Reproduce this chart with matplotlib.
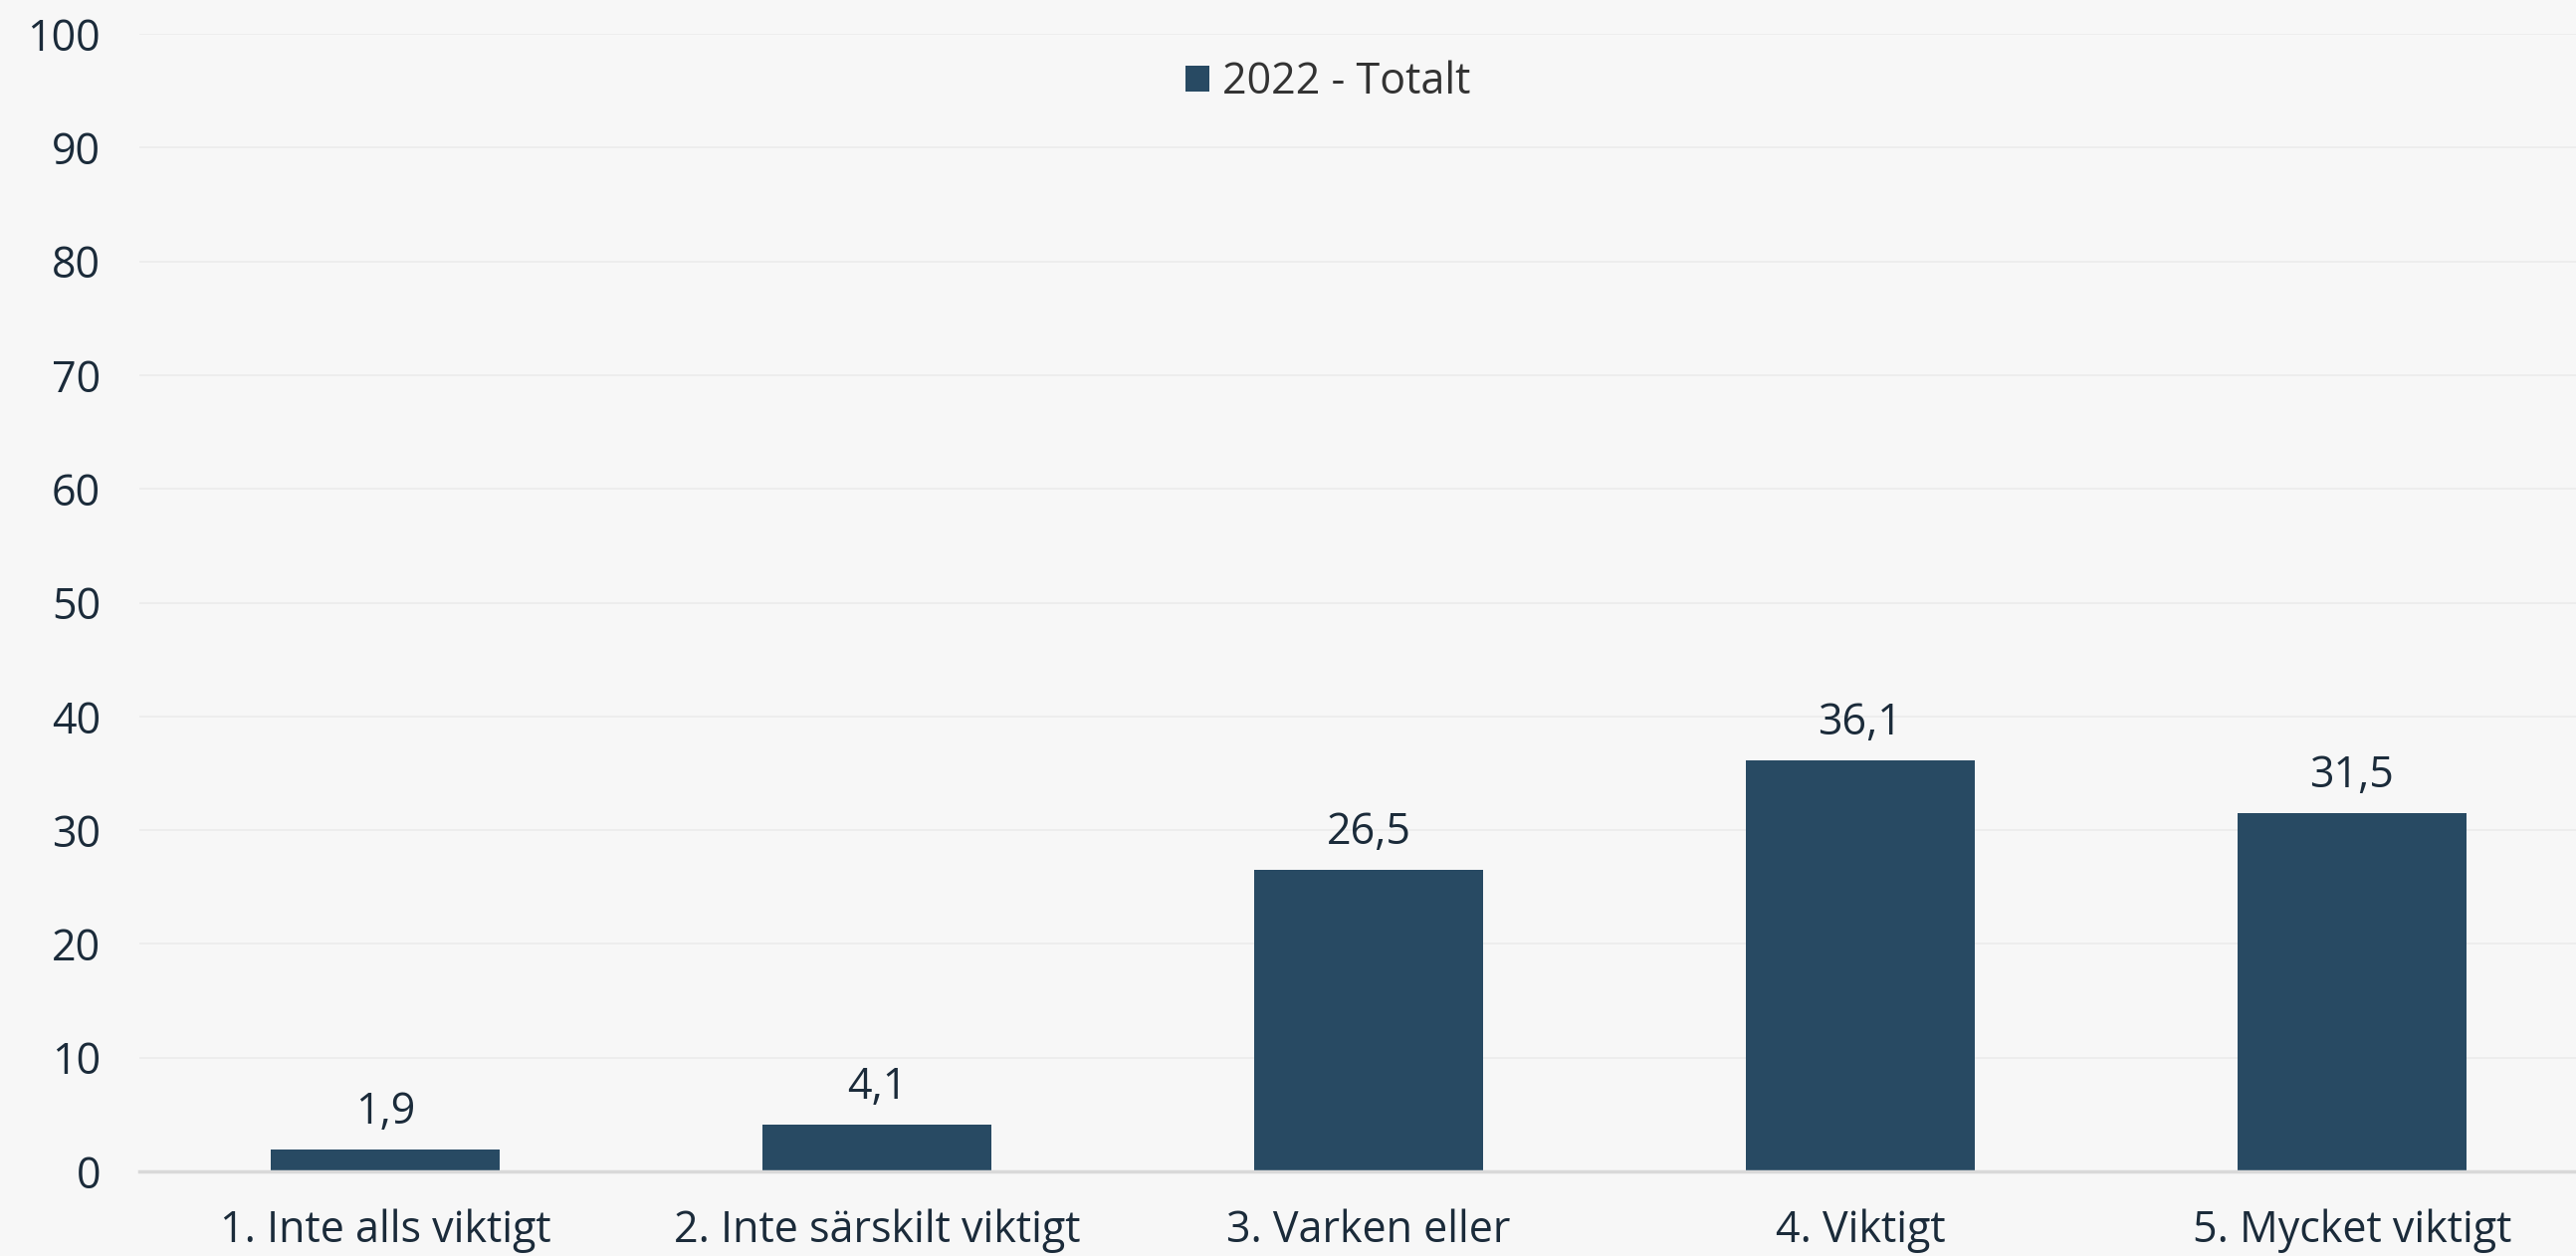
import matplotlib
matplotlib.use("Agg")
import matplotlib.pyplot as plt
from matplotlib.patches import Patch

categories = ["1. Inte alls viktigt", "2. Inte särskilt viktigt", "3. Varken eller", "4. Viktigt", "5. Mycket viktigt"]
values = [1.9, 4.1, 26.5, 36.1, 31.5]
value_labels = ["1,9", "4,1", "26,5", "36,1", "31,5"]
series_name = "2022 - Totalt"
yticks = [0, 10, 20, 30, 40, 50, 60, 70, 80, 90, 100]

W, H = 2588, 1262
dpi = 100
plt.rcParams['font.family'] = ['Open Sans', 'DejaVu Sans']
bg = "#f7f7f7"
bar_color = "#284a63"
text_color = "#1b2b3a"
fs = 31

fig = plt.figure(figsize=(W / dpi, H / dpi), dpi=dpi, facecolor=bg)
left_px, right_px, top_px, bottom_px = 140, 2610, 34, 1177
ax = fig.add_axes([left_px / W, 1 - bottom_px / H, (right_px - left_px) / W, (bottom_px - top_px) / H])
ax.set_facecolor(bg)

x = list(range(len(categories)))
bars = ax.bar(x, values, width=0.465, color=bar_color, zorder=3)
ax.set_xlim(-0.5, len(categories) - 0.5)
ax.set_ylim(0, 100)
ax.set_yticks(yticks)
ax.set_yticklabels([str(t) for t in yticks], fontsize=fs, color=text_color)
ax.set_xticks(x)
ax.set_xticklabels(categories, fontsize=fs, color=text_color, va='top')
ax.tick_params(axis='both', length=0)
ax.tick_params(axis='y', pad=28)
ax.tick_params(axis='x', pad=27)

ax.grid(axis='y', color="#ebebeb", linewidth=1.2, zorder=0)
for s in ['top', 'right', 'left']:
    ax.spines[s].set_visible(False)
ax.spines['bottom'].set_color("#d9d9d9")
ax.spines['bottom'].set_linewidth(2.5)
ax.spines['bottom'].set_zorder(4)

for b, lbl in zip(bars, value_labels):
    ax.annotate(lbl, (b.get_x() + b.get_width() / 2, b.get_height()),
                xytext=(0, 11), textcoords='offset points', ha='center', va='bottom',
                fontsize=fs, color=text_color)

handle = Patch(facecolor=bar_color, edgecolor='none')
fig.legend([handle], [series_name], loc='center', bbox_to_anchor=(1334 / W, 1 - 83 / H),
           frameon=False, fontsize=fs, labelcolor="#333333", handlelength=0.55, handleheight=0.55,
           handletextpad=0.3)

fig.savefig("out.png", dpi=dpi, facecolor=bg)
